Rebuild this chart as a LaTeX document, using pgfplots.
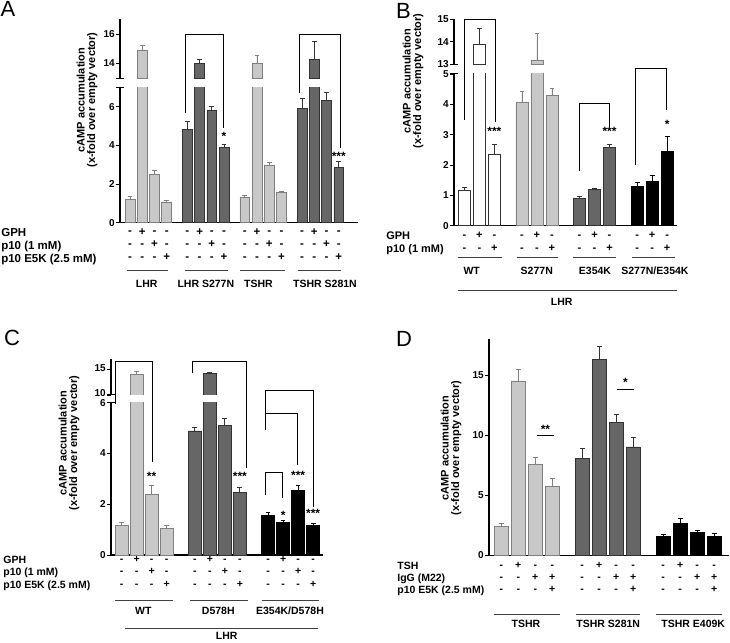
\documentclass[border=0pt]{standalone}
\usepackage{fontspec}
\setmainfont{Liberation Sans}
\usepackage{pgfplots}
\usepackage{pgfplotstable}
\pgfplotsset{compat=1.18}

\definecolor{lgF}{HTML}{C8C8C8}
\definecolor{lgE}{HTML}{808080}
\definecolor{dgF}{HTML}{666666}
\definecolor{dgE}{HTML}{333333}

% +/- rows under the bars
\newcommand\st{\rule{0pt}{6.5pt}}
\newcommand\mA{\st-\\-\\-}
\newcommand\mB{\st+\\-\\-}
\newcommand\mC{\st-\\+\\-}
\newcommand\mD{\st-\\-\\+}
\newcommand\mE{\st-\\+\\+}
\newcommand\nA{\st-\\-}
\newcommand\nB{\st+\\-}
\newcommand\nC{\st-\\+}

\pgfplotsset{
  panel/.style={
    scale only axis, anchor=south west,
    axis x line*=bottom, axis y line*=left,
    axis line style={line width=1.1pt},
    tick align=outside, major tick length=4pt,
    ytick style={line width=0.9pt, black},
    xtick style={draw=none},
    clip mode=individual,
    ybar, bar shift=0pt,
    /pgf/number format/assume math mode=true,
    yticklabel style={font=\bfseries\fontsize{10}{10}\selectfont, inner sep=1pt},
    xticklabel style={align=center, anchor=north, inner sep=0pt},
  },
  upper/.style={panel, axis x line=none, xtick=\empty},
  bbase/.style={line width=0.7pt, bar shift=0pt,
    /pgfplots/error bars/y dir=plus, /pgfplots/error bars/y explicit,
    /pgfplots/error bars/error bar style={#1, line width=0.8pt},
    /pgfplots/error bars/error mark options={#1, rotate=90, mark size=2.4pt, line width=0.8pt}},
  lgb/.style={fill=lgF, draw=lgE, bbase=lgE},
  dgb/.style={fill=dgF, draw=dgE, bbase=dgE},
  bkb/.style={fill=black, draw=black, bbase=black},
  whb/.style={fill=white, draw=dgE, bbase=dgE},
}
\tikzset{
  br/.style={line width=1pt, black},
  gl/.style={line width=0.9pt, black!75},
  glab/.style={font=\bfseries\fontsize{10.5}{10}\selectfont},
  star/.style={font=\bfseries\fontsize{12}{12}\selectfont, yshift=-2.6pt},
  ylab/.style={rotate=90, align=center, font=\bfseries\fontsize{11}{10.5}\selectfont},
  plab/.style={anchor=north west, inner sep=0pt, font=\fontsize{22}{22}\selectfont},
}

% ---------- panel A ----------
\pgfplotstableread{
x y e
0 1.22 0.13
1 14.92 0.34
2 2.51 0.20
3 1.06 0.11
9.38 1.33 0.08
10.38 14.0 0.57
11.38 2.99 0.15
12.38 1.55 0.08
}\Alg
\pgfplotstableread{
x y e
4.69 4.84 0.41
5.69 14.0 0.28
6.69 5.80 0.21
7.69 3.90 0.13
14.07 5.90 0.54
15.07 14.28 1.22
16.07 6.32 0.44
17.07 2.85 0.31
}\Adg

% ---------- panel B ----------
\pgfplotstableread{
x y e
0 1.17 0.08
1 13.9 0.69
2 2.35 0.33
}\Bwh
\pgfplotstableread{
x y e
3.84 4.05 0.37
4.84 13.19 1.18
5.84 4.30 0.23
}\Blg
\pgfplotstableread{
x y e
7.68 0.90 0.06
8.68 1.20 0.03
9.68 2.59 0.10
}\Bdg
\pgfplotstableread{
x y e
11.52 1.29 0.14
12.52 1.47 0.18
13.52 2.45 0.48
}\Bbk

% ---------- panel C ----------
\pgfplotstableread{
x y e
0 1.17 0.12
1 14.09 0.60
2 2.39 0.34
3 1.06 0.12
}\Clg
\pgfplotstableread{
x y e
4.88 4.89 0.14
5.88 14.2 0.20
6.88 5.09 0.30
7.88 2.48 0.19
}\Cdg
\pgfplotstableread{
x y e
9.76 1.56 0.10
10.76 1.30 0.05
11.76 2.56 0.20
12.76 1.18 0.06
}\Cbk

% ---------- panel D ----------
\pgfplotstableread{
x y e
0 2.38 0.25
1 14.5 0.97
2 7.60 0.52
3 5.71 0.69
}\Dlg
\pgfplotstableread{
x y e
4.76 8.04 0.89
5.76 16.3 1.06
6.76 11.03 0.70
7.76 9.01 0.83
}\Ddg
\pgfplotstableread{
x y e
9.52 1.58 0.19
10.52 2.66 0.39
11.52 1.89 0.21
12.52 1.58 0.22
}\Dbk

\begin{document}
\begin{tikzpicture}
\path[use as bounding box] (0,0) rectangle (730pt,642pt);

% ===== A =====
\begin{axis}[panel, at={(120pt,419.3pt)}, width=238pt, height=135.3pt,
  xmin=-0.82, xmax=18.64, ymin=0, ymax=7, ytick={0,2,4,6}, bar width=0.8,
  xtick={0,1,2,3,4.69,5.69,6.69,7.69,9.38,10.38,11.38,12.38,14.07,15.07,16.07,17.07},
  xticklabels={{\mA},{\mB},{\mC},{\mD},{\mA},{\mB},{\mC},{\mD},{\mA},{\mB},{\mC},{\mD},{\mA},{\mB},{\mC},{\mD}},
  xticklabel style={font=\bfseries\fontsize{11.5}{12.8}\selectfont, yshift=-1.5pt},
  extra x ticks={-0.81},
  extra x tick labels={{\st GPH\\p10 (1 mM)\\p10 E5K (2.5 mM)}},
  extra x tick style={xticklabel style={anchor=north west, align=left, xshift=-119pt}}]
\addplot[lgb] table[x=x, y=y, y error=e] {\Alg};
\addplot[dgb] table[x=x, y=y, y error=e] {\Adg};
\draw[br] (axis cs:4.55,5.66) |- (axis cs:7.66,9.75) -- (axis cs:7.66,4.88);
\draw[br] (axis cs:13.85,6.69) |- (axis cs:17.23,9.75) -- (axis cs:17.23,3.85);
\node[star] at (axis cs:7.69,4.62) {*};
\node[star] at (axis cs:17.07,3.55) {***};
\draw[gl] (axis cs:-0.22,-2.48) -- (axis cs:3.13,-2.48);
\draw[gl] (axis cs:4.5,-2.48) -- (axis cs:7.99,-2.48);
\draw[gl] (axis cs:9.0,-2.48) -- (axis cs:12.67,-2.48);
\draw[gl] (axis cs:13.71,-2.48) -- (axis cs:17.23,-2.48);
\node[glab] at (axis cs:1.36,-3.17) {LHR};
\node[glab] at (axis cs:6.2,-3.17) {LHR S277N};
\node[glab] at (axis cs:10.5,-3.17) {TSHR};
\node[glab] at (axis cs:15.94,-3.17) {TSHR S281N};
\end{axis}
\begin{axis}[upper, at={(120pt,563.7pt)}, width=238pt, height=59pt,
  xmin=-0.82, xmax=18.64, ymin=13, ymax=17, ytick={14,16}, bar width=0.8]
\addplot[lgb, restrict y to domain=12.5:30] table[x=x, y=y, y error=e] {\Alg};
\addplot[dgb, restrict y to domain=12.5:30] table[x=x, y=y, y error=e] {\Adg};
\end{axis}
\draw[line width=1pt] (116pt,554.7pt) -- (124pt,554.7pt);
\draw[line width=1pt] (116pt,563.7pt) -- (124pt,563.7pt);
\node[ylab] at (87pt,542pt) {cAMP accumulation\\(x-fold over empty vector)};
\node[plab] at (0.5pt,640.5pt) {A};

% ===== B =====
\begin{axis}[panel, at={(454pt,416.3pt)}, width=222.7pt, height=151.7pt,
  xmin=-0.69, xmax=14.16, ymin=0, ymax=5, ytick={0,1,2,3,4,5}, bar width=0.8,
  xtick={0,1,2,3.84,4.84,5.84,7.68,8.68,9.68,11.52,12.52,13.52},
  xticklabels={{\nA},{\nB},{\nC},{\nA},{\nB},{\nC},{\nA},{\nB},{\nC},{\nA},{\nB},{\nC}},
  xticklabel style={font=\bfseries\fontsize{11}{13.7}\selectfont, yshift=-1.7pt},
  extra x ticks={-0.68},
  extra x tick labels={{\st GPH\\p10 (1 mM)}},
  extra x tick style={xticklabel style={anchor=north west, align=left, xshift=-68pt}}]
\addplot[whb] table[x=x, y=y, y error=e] {\Bwh};
\addplot[lgb] table[x=x, y=y, y error=e] {\Blg};
\addplot[dgb] table[x=x, y=y, y error=e] {\Bdg};
\addplot[bkb] table[x=x, y=y, y error=e] {\Bbk};
\draw[br] (axis cs:0,3.48) |- (axis cs:2.05,6.81) -- (axis cs:2.05,3.43);
\draw[br] (axis cs:7.65,1.81) |- (axis cs:9.71,4.03) -- (axis cs:9.71,3.26);
\draw[br] (axis cs:11.38,2.0) |- (axis cs:13.49,5.17) -- (axis cs:13.49,3.81);
\node[star] at (axis cs:2,3.21) {***};
\node[star] at (axis cs:9.68,3.21) {***};
\node[star] at (axis cs:13.52,3.43) {*};
\draw[gl] (axis cs:-0.4,-1.06) -- (axis cs:2.49,-1.06);
\draw[gl] (axis cs:3.49,-1.06) -- (axis cs:6.27,-1.06);
\draw[gl] (axis cs:7.27,-1.06) -- (axis cs:10.09,-1.06);
\draw[gl] (axis cs:11.16,-1.06) -- (axis cs:14.05,-1.06);
\node[glab] at (axis cs:0.49,-1.48) {WT};
\node[glab] at (axis cs:4.83,-1.48) {S277N};
\node[glab] at (axis cs:8.71,-1.48) {E354K};
\node[glab] at (axis cs:12.71,-1.48) {S277N/E354K};
\draw[gl] (axis cs:-0.4,-2.14) -- (axis cs:14.16,-2.14);
\node[glab] at (axis cs:6.49,-2.51) {LHR};
\end{axis}
\begin{axis}[upper, at={(454pt,577.7pt)}, width=222.7pt, height=45.3pt,
  xmin=-0.69, xmax=14.16, ymin=13, ymax=15, ytick={13,14,15}, bar width=0.8]
\addplot[whb, restrict y to domain=12.5:30] table[x=x, y=y, y error=e] {\Bwh};
\addplot[lgb, restrict y to domain=12.5:30] table[x=x, y=y, y error=e] {\Blg};
\end{axis}
\draw[line width=1pt] (450pt,568pt) -- (458pt,568pt);
\draw[line width=1pt] (450pt,577.7pt) -- (458pt,577.7pt);
\node[ylab] at (413pt,561pt) {cAMP accumulation\\(x-fold over empty vector)};
\node[plab] at (396pt,639pt) {B};

% ===== C =====
\begin{axis}[panel, at={(111pt,87pt)}, width=211.7pt, height=152.3pt,
  xmin=-0.71, xmax=13.4, ymin=0, ymax=6, ytick={0,2,4,6}, bar width=0.84,
  xtick={0,1,2,3,4.88,5.88,6.88,7.88,9.76,10.76,11.76,12.76},
  xticklabels={{\mA},{\mB},{\mC},{\mD},{\mA},{\mB},{\mC},{\mD},{\mA},{\mB},{\mC},{\mD}},
  xticklabel style={font=\bfseries\fontsize{10.5}{12.5}\selectfont, yshift=3.5pt},
  extra x ticks={-0.70},
  extra x tick labels={{\st GPH\\p10 (1 mM)\\p10 E5K (2.5 mM)}},
  extra x tick style={xticklabel style={anchor=north west, align=left, xshift=-108pt}}]
\addplot[lgb] table[x=x, y=y, y error=e] {\Clg};
\addplot[dgb] table[x=x, y=y, y error=e] {\Cdg};
\addplot[bkb] table[x=x, y=y, y error=e] {\Cbk};
\draw[br] (axis cs:-0.38,5.95) |- (axis cs:2.07,7.62) -- (axis cs:2.07,3.68);
\draw[br] (axis cs:4.73,7.16) |- (axis cs:8.33,7.62) -- (axis cs:8.33,3.42);
\draw[br] (axis cs:9.56,4.93) |- (axis cs:12.77,6.50) -- (axis cs:12.77,1.90);
\draw[br] (axis cs:9.56,4.93) |- (axis cs:11.73,5.56) -- (axis cs:11.73,3.55);
\draw[br] (axis cs:9.62,2.37) |- (axis cs:10.71,3.25) -- (axis cs:10.71,2.23);
\node[star] at (axis cs:2,3.19) {**};
\node[star] at (axis cs:7.88,3.19) {***};
\node[star] at (axis cs:10.76,1.68) {*};
\node[star] at (axis cs:11.76,3.22) {***};
\node[star] at (axis cs:12.76,1.76) {***};
\draw[gl] (axis cs:-0.45,-1.81) -- (axis cs:3.44,-1.81);
\draw[gl] (axis cs:4.55,-1.81) -- (axis cs:8.44,-1.81);
\draw[gl] (axis cs:9.33,-1.81) -- (axis cs:13.17,-1.81);
\node[glab] at (axis cs:1.44,-2.2) {WT};
\node[glab] at (axis cs:6.44,-2.2) {D578H};
\node[glab] at (axis cs:11.22,-2.2) {E354K/D578H};
\draw[gl] (axis cs:0.22,-2.89) -- (axis cs:13.1,-2.89);
\node[glab] at (axis cs:7.0,-3.2) {LHR};
\end{axis}
\begin{axis}[upper, at={(111pt,247pt)}, width=211.7pt, height=35.7pt,
  xmin=-0.71, xmax=13.4, ymin=10, ymax=17, ytick={10,15}, bar width=0.84,
  yticklabel style={yshift=1.5pt}]
\addplot[lgb, restrict y to domain=9.5:30] table[x=x, y=y, y error=e] {\Clg};
\addplot[dgb, restrict y to domain=9.5:30] table[x=x, y=y, y error=e] {\Cdg};
\end{axis}
\draw[line width=1pt] (107pt,239.3pt) -- (115pt,239.3pt);
\draw[line width=1pt] (107pt,247pt) -- (115pt,247pt);
\node[ylab] at (69pt,199pt) {cAMP accumulation\\(x-fold over empty vector)};
\node[plab] at (4pt,312pt) {C};

% ===== D =====
\begin{axis}[panel, at={(489pt,86.7pt)}, width=240pt, height=216.4pt,
  xmin=-0.72, xmax=13.39, ymin=0, ymax=18, ytick={0,5,10,15}, bar width=0.82,
  xtick={0,1,2,3,4.76,5.76,6.76,7.76,9.52,10.52,11.52,12.52},
  xticklabels={{\mA},{\mB},{\mC},{\mE},{\mA},{\mB},{\mC},{\mE},{\mA},{\mB},{\mC},{\mE}},
  xticklabel style={font=\bfseries\fontsize{10.5}{12}\selectfont, yshift=-2.2pt},
  extra x ticks={-0.71},
  extra x tick labels={{\st TSH\\IgG (M22)\\p10 E5K (2.5 mM)}},
  extra x tick style={xticklabel style={anchor=north west, align=left, xshift=-92pt}}]
\addplot[lgb] table[x=x, y=y, y error=e] {\Dlg};
\addplot[dgb] table[x=x, y=y, y error=e] {\Ddg};
\addplot[bkb] table[x=x, y=y, y error=e] {\Dbk};
\draw[br] (axis cs:2.08,9.98) -- (axis cs:3.12,9.98);
\draw[br] (axis cs:6.79,13.83) -- (axis cs:7.82,13.83);
\node[star] at (axis cs:2.6,10.7) {**};
\node[star] at (axis cs:7.3,14.58) {*};
\draw[gl] (axis cs:-0.41,-4.91) -- (axis cs:3.44,-4.91);
\draw[gl] (axis cs:4.38,-4.91) -- (axis cs:8.18,-4.91);
\draw[gl] (axis cs:9.12,-4.91) -- (axis cs:12.96,-4.91);
\node[glab] at (axis cs:1.45,-5.72) {TSHR};
\node[glab] at (axis cs:6.29,-5.72) {TSHR S281N};
\node[glab] at (axis cs:11.29,-5.72) {TSHR E409K};
\end{axis}
\node[ylab] at (451pt,194pt) {cAMP accumulation\\(x-fold over empty vector)};
\node[plab] at (396pt,311pt) {D};
\end{tikzpicture}
\end{document}
